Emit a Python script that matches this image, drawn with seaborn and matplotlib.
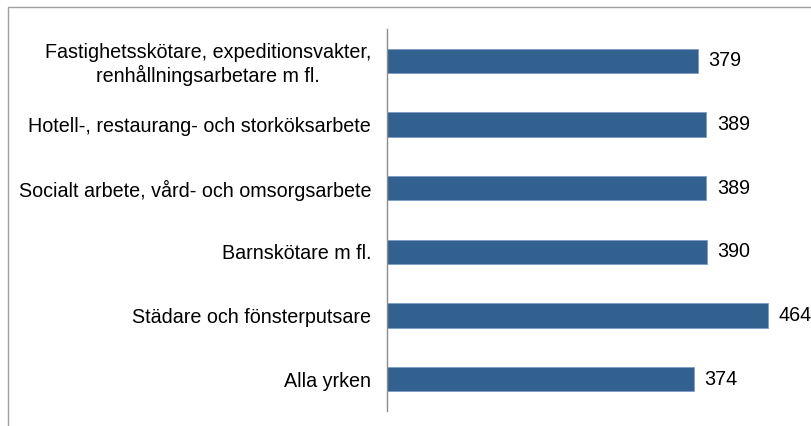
import matplotlib
matplotlib.use("Agg")
import matplotlib.pyplot as plt
import pandas as pd
import seaborn as sns
from matplotlib.patches import Rectangle

# yrkesgrupper och värden (uppifrån och ned)
categories = [
    "Fastighetsskötare, expeditionsvakter,\nrenhållningsarbetare m fl.",
    "Hotell-, restaurang- och storköksarbete",
    "Socialt arbete, vård- och omsorgsarbete",
    "Barnskötare m fl.",
    "Städare och fönsterputsare",
    "Alla yrken",
]
values = [379, 389, 389, 390, 464, 374]

df = pd.DataFrame({"Yrke": categories, "Varde": values})

sns.set_style("white")
plt.rcParams["font.family"] = ["Liberation Sans", "DejaVu Sans"]

fig = plt.figure(figsize=(8.11, 4.26), dpi=100)
ax = fig.add_axes([387 / 811, 1 - 411 / 426, 1 - 387 / 811, (411 - 29) / 426])

sns.barplot(data=df, x="Varde", y="Yrke", orient="h", color="#32608f",
            width=0.38, edgecolor="#7d9cc6", linewidth=0.6, ax=ax, saturation=1)

ax.set_xlim(0, (811 - 387) / 0.821)
ax.set_xlabel("")
ax.set_ylabel("")
ax.set_xticks([])
for side in ["top", "right", "bottom"]:
    ax.spines[side].set_visible(False)
ax.spines["left"].set_color("#8c8c8c")
ax.spines["left"].set_linewidth(1.0)
ax.tick_params(axis="y", length=0, pad=11.5, labelsize=14.2, colors="black")
for lbl in ax.get_yticklabels():
    lbl.set_multialignment("center")

for c in ax.containers:
    ax.bar_label(c, fmt="%d", padding=7.5, fontsize=14.2, color="black")

# ram runt diagrammet
fig.patches.append(Rectangle((8 / 811, -0.1), 1.2, 1.1 - 7 / 426,
                             transform=fig.transFigure, fill=False,
                             edgecolor="#a0a0a0", linewidth=1.0))

fig.savefig("out.png", dpi=100)
